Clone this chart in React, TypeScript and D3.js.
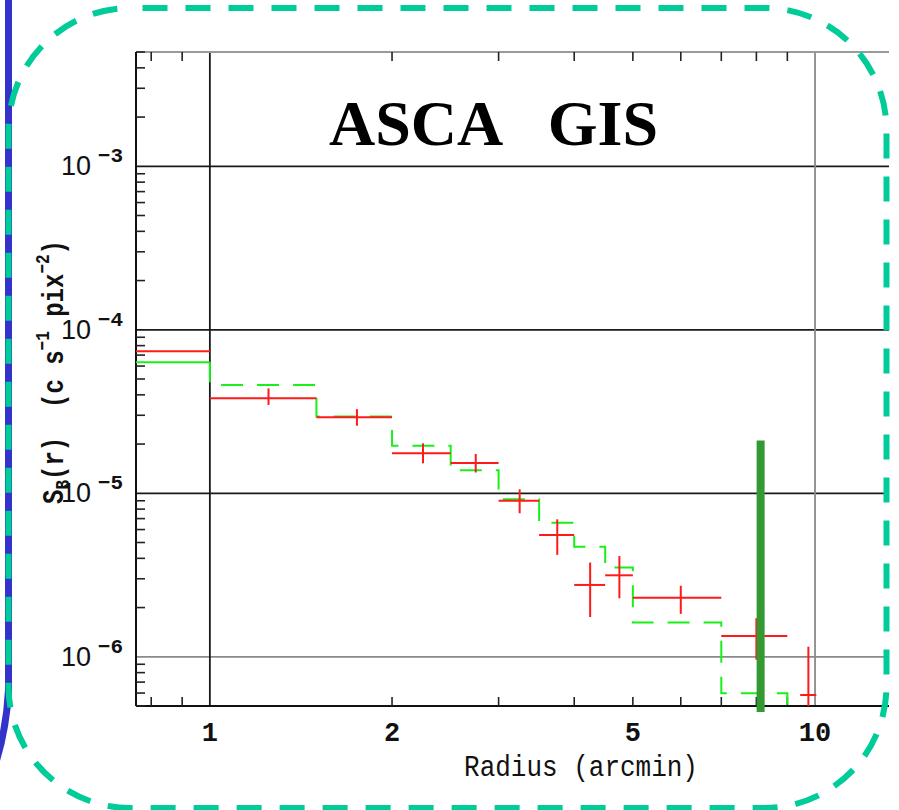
import React from "react";
import * as d3 from "d3";

// ---- data ----
const redBinLo = [0.5, 1, 1.5, 2, 2.5, 3, 3.5, 4, 4.5, 5, 7, 9.45];
const redBinHi = [1, 1.5, 2, 2.5, 3, 3.5, 4, 4.5, 5, 7, 9, 10.05];
const redCenter = [0.75, 1.25, 1.75, 2.25, 2.75, 3.25, 3.75, 4.25, 4.75, 6, 8, 9.75];
const redValue = [7.4e-5, 3.81e-5, 2.92e-5, 1.755e-5, 1.53e-5, 9.0e-6, 5.56e-6, 2.75e-6, 3.15e-6, 2.3e-6, 1.34e-6, 5.84e-7];
const redUpper = [7.9e-5, 4.38e-5, 3.27e-5, 2.02e-5, 1.74e-5, 1.057e-5, 6.93e-6, 3.77e-6, 4.13e-6, 2.72e-6, 1.72e-6, 1.15e-6];
const redLower = [7.0e-5, 3.47e-5, 2.59e-5, 1.525e-5, 1.34e-5, 7.55e-6, 4.2e-6, 1.75e-6, 2.28e-6, 1.83e-6, 0.96e-6, 1e-8];

const modelLo = [0.5, 1, 1.5, 2, 2.5, 3, 3.5, 4, 4.5, 5, 7, 9];
const modelHi = [1, 1.5, 2, 2.5, 3, 3.5, 4, 4.5, 5, 7, 9, 10.5];
const modelValue = [6.33e-5, 4.59e-5, 2.95e-5, 1.954e-5, 1.382e-5, 9.19e-6, 6.61e-6, 4.71e-6, 3.51e-6, 1.62e-6, 5.98e-7, 3e-7];

const markerRadius = 8.13;
const markerTop = 2.1e-5;
const markerBottom = 4.6e-7;

const xDomain = [0.755, 13.25];
const yDomain = [5e-7, 5e-3];
const xLabelTicks = [1, 2, 5, 10];
const xLabelText = ["1", "2", "5", "10"];
const xMinorTicks = [0.8, 0.9, 2, 3, 4, 5, 6, 7, 8, 9];
const xGridTicks = [1, 10];
const yGridTicks = [1e-3, 1e-4, 1e-5, 1e-6];
const yTickExponents = ["\u22123", "\u22124", "\u22125", "\u22126"];
const yMinorMantissa = [2, 3, 4, 5, 6, 7, 8, 9];
const yMinorDecades = [1e-7, 1e-6, 1e-5, 1e-4, 1e-3];

const title = "ASCA   GIS";
const xTitle = "Radius (arcmin)";

export default function App() {
  const L = 136, R = 889, T = 52, B = 706;
  const x = d3.scaleLog().domain(xDomain).range([L, R]);
  const y = d3.scaleLog().domain(yDomain).range([B, T]);

  const yMinor: number[] = [];
  yMinorDecades.forEach((d) =>
    yMinorMantissa.forEach((m) => {
      const v = d * m;
      if (v >= yDomain[0] && v <= yDomain[1]) yMinor.push(v);
    })
  );

  // model step path (first bin solid, the rest dashed)
  const firstSeg = `M${x(modelLo[0])},${y(modelValue[0])}H${x(modelHi[0])}`;
  const p = d3.path();
  p.moveTo(x(modelHi[0]), y(modelValue[0]));
  for (let i = 1; i < modelValue.length; i++) {
    p.lineTo(x(modelLo[i]), y(modelValue[i]));
    p.lineTo(x(modelHi[i]), y(modelValue[i]));
  }

  const red = "#ff1a1a";
  const green = "#19f019";
  const mono = "'Liberation Mono', 'DejaVu Sans Mono', monospace";
  const sans = "'Liberation Sans', Arial, sans-serif";

  return (
    <svg
      width={899}
      height={810}
      style={{ position: "absolute", left: 0, top: 0, background: "#fff" }}
    >
      <defs>
        <clipPath id="plotclip">
          <rect x={L} y={T} width={R - L} height={B - T} />
        </clipPath>
      </defs>
      <rect x={0} y={0} width={899} height={810} fill="#fff" />

      {/* blue panel border on the left */}
      <path
        d="M8.5,-10 L8.5,690 A300,300 0 0 1 -10,780"
        fill="none"
        stroke="#3333cc"
        strokeWidth={7}
      />

      {/* grid lines */}
      {yGridTicks.map((v, i) => (
        <line
          key={"yg" + i}
          x1={L}
          x2={R}
          y1={y(v)}
          y2={y(v)}
          stroke={v === 1e-6 ? "#8a8a8a" : "#1a1a1a"}
          strokeWidth={1.8}
        />
      ))}
      {xGridTicks.map((v, i) => (
        <line
          key={"xg" + i}
          x1={x(v)}
          x2={x(v)}
          y1={T}
          y2={B}
          stroke={v === 10 ? "#8a8a8a" : "#1a1a1a"}
          strokeWidth={1.8}
        />
      ))}

      {/* axes */}
      <line x1={L} x2={R} y1={T} y2={T} stroke="#9a9a9a" strokeWidth={1.8} />
      <line x1={L} x2={R} y1={B} y2={B} stroke="#111" strokeWidth={2} />
      <line x1={L} x2={L} y1={T} y2={B} stroke="#111" strokeWidth={2} />

      {xMinorTicks.map((v, i) => (
        <g key={"xt" + i}>
          <line x1={x(v)} x2={x(v)} y1={T} y2={T + 9} stroke="#222" strokeWidth={1.6} />
          <line x1={x(v)} x2={x(v)} y1={B} y2={B - 9} stroke="#222" strokeWidth={1.6} />
        </g>
      ))}
      {yMinor.map((v, i) => (
        <line key={"ym" + i} x1={L} x2={L + 9} y1={y(v)} y2={y(v)} stroke="#222" strokeWidth={1.6} />
      ))}

      {/* tick labels */}
      {xLabelTicks.map((v, i) => (
        <text
          key={"xl" + i}
          x={x(v)}
          y={741}
          textAnchor="middle"
          fontFamily={mono}
          fontWeight="bold"
          fontSize={27}
          fill="#111"
        >
          {xLabelText[i]}
        </text>
      ))}
      {yGridTicks.map((v, i) => (
        <g key={"yl" + i}>
          <text
            x={91}
            y={y(v) + 9}
            textAnchor="end"
            fontFamily={sans}
            fontSize={27}
            fill="#111"
          >
            10
          </text>
          <text
            x={123}
            y={y(v) - 4}
            textAnchor="end"
            fontFamily={mono}
            fontWeight="bold"
            fontSize={21}
            fill="#111"
          >
            {yTickExponents[i]}
          </text>
        </g>
      ))}

      {/* axis titles */}
      <text
        x={581}
        y={776}
        textAnchor="middle"
        fontFamily={mono}
        fontSize={26}
        fill="#111"
        transform="translate(0,-116) scale(1,1.15)"
        style={{ transformOrigin: "0 0" }}
      >
        {xTitle}
      </text>
      <text
        transform="translate(63,372) rotate(-90) scale(1,1.25)"
        textAnchor="middle"
        fontFamily={mono}
        fontWeight="bold"
        fontSize={24}
        fill="#111"
        style={{ whiteSpace: "pre" }}
      >
        <tspan>S</tspan>
        <tspan fontSize={16} dy={5}>B</tspan>
        <tspan dy={-5}>{"(r)  (c s"}</tspan>
        <tspan fontSize={16} dy={-11}>{"\u22121"}</tspan>
        <tspan dy={11}>{" pix"}</tspan>
        <tspan fontSize={16} dy={-11}>{"\u22122"}</tspan>
        <tspan dy={11}>{")"}</tspan>
      </text>

      {/* data */}
      <g clipPath="url(#plotclip)">
        <path d={firstSeg} fill="none" stroke={green} strokeWidth={2} />
        <path
          d={p.toString()}
          fill="none"
          stroke={green}
          strokeWidth={2}
          strokeDasharray="22,14"
          strokeDashoffset={2}
        />
        {redValue.map((v, i) => (
          <g key={"r" + i}>
            <line
              x1={x(redBinLo[i])}
              x2={x(redBinHi[i])}
              y1={y(v)}
              y2={y(v)}
              stroke={red}
              strokeWidth={2}
            />
            <line
              x1={x(redCenter[i])}
              x2={x(redCenter[i])}
              y1={y(redUpper[i])}
              y2={y(redLower[i])}
              stroke={red}
              strokeWidth={2}
            />
          </g>
        ))}
      </g>

      {/* marker bar */}
      <line
        x1={x(markerRadius)}
        x2={x(markerRadius)}
        y1={y(markerTop)}
        y2={y(markerBottom)}
        stroke="#339933"
        strokeWidth={8}
      />

      {/* title */}
      <text
        x={329}
        y={145}
        fontFamily="'Liberation Serif', 'Times New Roman', serif"
        fontWeight="bold"
        fontSize={64}
        fill="#000"
        style={{ whiteSpace: "pre" }}
      >
        {title}
      </text>

      {/* teal dashed rounded frame */}
      <rect
        x={8.5}
        y={8}
        width={878}
        height={800}
        rx={122}
        ry={122}
        fill="none"
        stroke="#00cc99"
        strokeWidth={6}
        strokeDasharray="25,18"
        strokeDashoffset={31}
      />
    </svg>
  );
}
